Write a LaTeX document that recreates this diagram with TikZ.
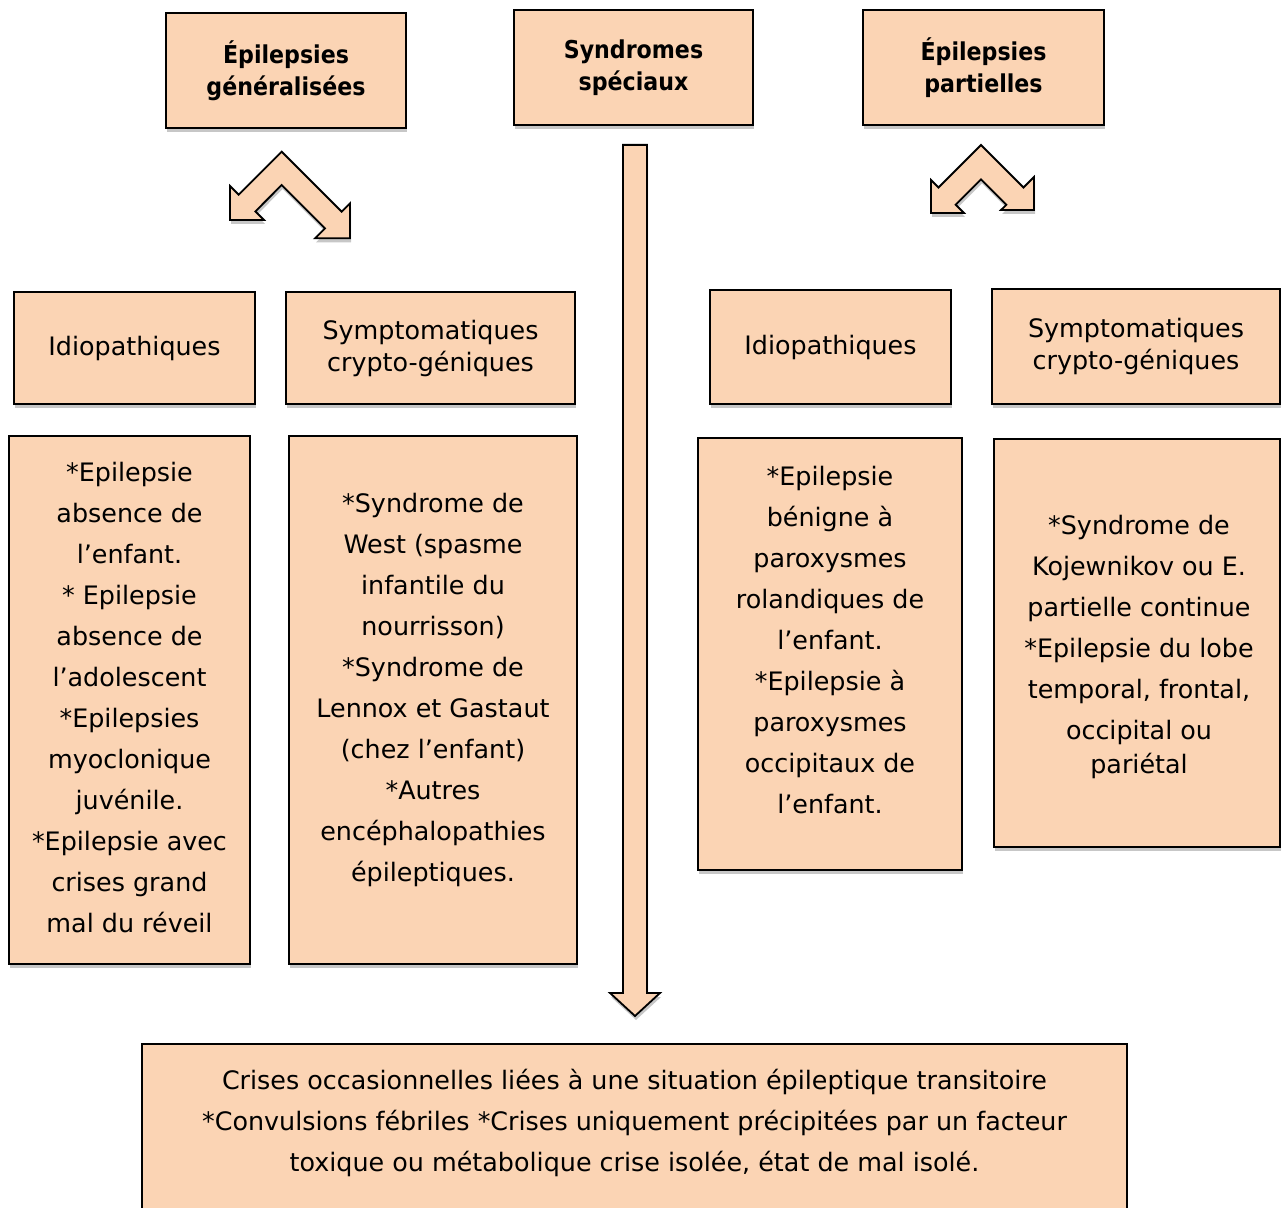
\documentclass[tikz,border=0pt]{standalone}
\usepackage{fontspec}
\setmainfont{DejaVu Sans}
\newfontfamily\headfont{DejaVu Sans Condensed}
\usepackage{tikz}
\usetikzlibrary{calc, positioning, shadows}
\definecolor{peach}{HTML}{FBD4B4}
\tikzset{
    box/.style={rectangle, draw=black, line width=0.9pt, fill=peach, align=center, inner sep=0pt,
        drop shadow={shadow xshift=0.5pt, shadow yshift=-2pt, fill=black!22, opacity=1}},
    head/.style={box, font=\headfont\fontsize{12.3}{16}\selectfont\bfseries},
    kind/.style={box, font=\fontsize{12.7}{16}\selectfont},
    list/.style={align=center, inner sep=0pt, font=\fontsize{12.7}{20.5}\selectfont},
    bigarrow/.style={draw=black, line width=0.9pt, fill=peach, line join=miter,
        drop shadow={shadow xshift=0.5pt, shadow yshift=-2pt, fill=black!22, opacity=1}}
}
\begin{document}
\begin{tikzpicture}[x=0.5pt, y=-0.5pt]
    \useasboundingbox (0,0) rectangle (1281,1208);

    % top row
    \node[head, minimum width=120pt, minimum height=57.5pt] (gen) at (286,70.5) {Épilepsies\\généralisées};
    \node[head, minimum width=119.5pt, minimum height=57.5pt] (spec) at (633.5,67.5) {Syndromes\\spéciaux};
    \node[head, minimum width=120.5pt, minimum height=57.5pt] (part) at (983.5,67.5) {Épilepsies\\partielles};

    % kinds
    \node[kind, minimum width=120.5pt, minimum height=56pt] (idioG) at (134.5,348) {Idiopathiques};
    \node[kind, minimum width=144.5pt, minimum height=56pt] (sympG) at (430.5,348) {Symptomatiques\\crypto-géniques};
    \node[kind, minimum width=120.5pt, minimum height=57pt] (idioP) at (830.5,347) {Idiopathiques};
    \node[kind, minimum width=144pt, minimum height=57.5pt] (sympP) at (1136,346.5) {Symptomatiques\\crypto-géniques};

    % lists
    \node[box, minimum width=120.5pt, minimum height=264pt] (boxA) at (129.5,700) {};
    \node[box, minimum width=144pt, minimum height=264pt] (boxB) at (433,700) {};
    \node[box, minimum width=132pt, minimum height=216pt] (boxC) at (830,654) {};
    \node[box, minimum width=143pt, minimum height=204pt] (boxD) at (1137,643) {};
    \node[list] (listA) at (129.5,697.5) {*Epilepsie\\absence de\\l’enfant.\\* Epilepsie\\absence de\\l’adolescent\\*Epilepsies\\myoclonique\\juvénile.\\*Epilepsie avec\\crises grand\\mal du réveil};
    \node[list] (listB) at (433,689.5) {*Syndrome de\\West (spasme\\infantile du\\nourrisson)\\*Syndrome de\\Lennox et Gastaut\\(chez l’enfant)\\*Autres\\encéphalopathies\\épileptiques.};
    \node[list] (listC) at (830,640) {*Epilepsie\\bénigne à\\paroxysmes\\rolandiques de\\l’enfant.\\*Epilepsie à\\paroxysmes\\occipitaux de\\l’enfant.};
    \node[list] (listD) at (1139,646.5) {*Syndrome de\\Kojewnikov ou E.\\partielle continue\\*Epilepsie du lobe\\temporal, frontal,\\occipital ou\\[-3.5pt]pariétal};

    % bottom
    \node[box, anchor=north, minimum width=492.5pt, minimum height=100pt] (occ) at (634.5,1043) {};
    \node[list] (occTxt) at (634.5,1123) {Crises occasionnelles liées à une situation épileptique transitoire\\*Convulsions fébriles *Crises uniquement précipitées par un facteur\\toxique ou métabolique crise isolée, état de mal isolé.};

    % arrows
    \filldraw[bigarrow] (281.7,151.7) -- (341.7,211.7) -- (350,203.3) -- (350,238.3) -- (315,238.3) -- (325,228.3)
        -- (281.7,185) -- (255.4,211.4) -- (264,220) -- (230,220) -- (230,186) -- (238.7,194.7) -- cycle;
    \filldraw[bigarrow] (981,145) -- (1023.5,187.5) -- (1034,177) -- (1034,210) -- (1001,210) -- (1006.4,204.7)
        -- (981,179.3) -- (955.7,204.7) -- (964,213) -- (931,213) -- (931,180) -- (938.5,187.5) -- cycle;
    \coordinate (specTail) at ($(spec.south)+(1.5,19)$);
    \coordinate (occTip) at ($(occ.north)+(0.5,-27)$);
    \filldraw[bigarrow] ($(specTail)+(-12,0)$) -- ($(specTail)+(12,0)$) -- ($(occTip)+(12,-23)$) -- ($(occTip)+(25,-23)$)
        -- (occTip) -- ($(occTip)+(-25,-23)$) -- ($(occTip)+(-12,-23)$) -- cycle;
\end{tikzpicture}
\end{document}
